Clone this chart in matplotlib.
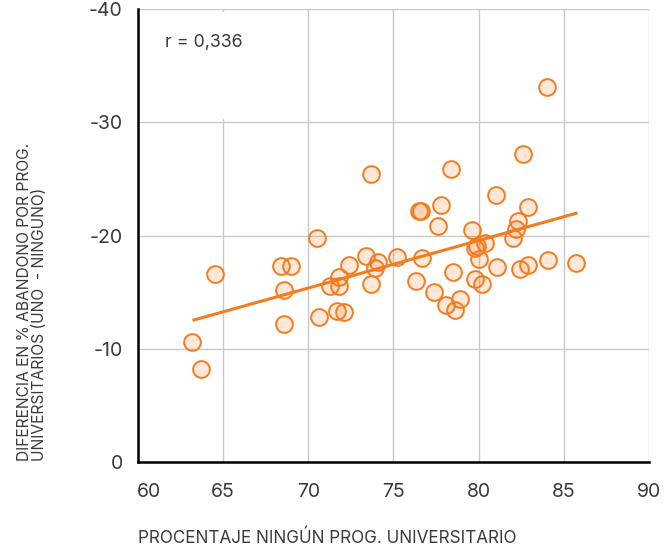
#!/usr/bin/python3

import matplotlib
matplotlib.use('Agg')
import matplotlib.pyplot as plt
from matplotlib.patches import Rectangle
from matplotlib.transforms import ScaledTranslation

## Porcentaje ningun prog. universitario (eje x).
pct_ninguno = [73.7, 78.4, 82.6, 81.0, 77.8, 76.5, 76.6, 82.9, 77.6, 79.6,
               82.3, 82.2, 82.0, 70.5, 80.4, 79.9, 79.8, 80.0, 75.2, 76.7,
               73.4, 74.1, 73.9, 72.4, 68.4, 69.0, 64.5, 81.1, 82.9, 82.4,
               84.1, 85.7, 78.5, 71.8, 71.3, 71.8, 73.7, 68.6, 76.3, 79.8,
               80.2, 77.4, 78.9, 78.1, 78.6, 70.6, 71.7, 72.1, 68.6, 63.2,
               63.7, 84.0]

## Diferencia en % abandono (uno - ninguno).
dif_abandono = [-25.4, -25.9, -27.2, -23.6, -22.7, -22.2, -22.2, -22.5, -20.8, -20.5,
                -21.3, -20.6, -19.8, -19.8, -19.3, -19.1, -18.9, -17.9, -18.1, -18.0,
                -18.2, -17.7, -17.1, -17.4, -17.3, -17.3, -16.6, -17.2, -17.4, -17.0,
                -17.8, -17.6, -16.8, -16.3, -15.5, -15.5, -15.7, -15.2, -16.0, -16.2,
                -15.7, -15.0, -14.4, -13.9, -13.4, -12.8, -13.3, -13.2, -12.2, -10.6,
                -8.2, -33.1]

## Linea de tendencia (extremos).
trend_x = [63.2, 85.8]
trend_y = [-12.5, -22.0]

x_ticks = [60, 65, 70, 75, 80, 85, 90]
y_ticks = [0, -10, -20, -30, -40]

orange = '#f47b20'
text_color = '#3a3a3a'

plt.rcParams['font.family'] = ['Inter', 'DejaVu Sans']

fig = plt.figure(figsize=(6.64, 5.5), dpi=100)
ax = fig.add_axes([0.2078, 0.1605, 0.7696, 0.8225])

ax.set_xlim(60, 90)
ax.set_ylim(0, -40)
ax.set_xticks(x_ticks)
ax.set_yticks(y_ticks)
ax.set_xticklabels([str(v) for v in x_ticks])
ax.set_yticklabels([str(v) for v in y_ticks])
ax.tick_params(length=0, labelsize=14, colors=text_color)
ax.tick_params(axis='x', pad=15)
ax.tick_params(axis='y', pad=11)

## La primera etiqueta del eje x esta corrida a la derecha en el original.
first = ax.get_xticklabels()[0]
first.set_transform(first.get_transform() +
                    ScaledTranslation(11 / 100, 0, fig.dpi_scale_trans))

ax.set_axisbelow(True)
ax.grid(color='#c8c8c8', linewidth=1.0)
for side in ['top', 'right']:
  ax.spines[side].set_visible(False)
for side in ['left', 'bottom']:
  ax.spines[side].set_linewidth(1.8)
  ax.spines[side].set_color('black')

## Caja blanca detras del texto r (tapa la rejilla).
ax.add_patch(Rectangle((60.3, -39.8), 9.4, 9.5, facecolor='white',
                       edgecolor='none', zorder=0.8))

ax.scatter(pct_ninguno, dif_abandono, s=145, facecolor=(0.957, 0.482, 0.125, 0.18),
           edgecolor=orange, linewidth=1.4, zorder=3, clip_on=False)
ax.plot(trend_x, trend_y, color=orange, linewidth=2.2, zorder=4,
        solid_capstyle='butt')

ax.text(61.6, -37.1, 'r = 0,336', fontsize=12.8, color=text_color,
        ha='left', va='center')

fig.text(138 / 664, 1 - 538 / 550, 'PROCENTAJE NINGÚN PROG. UNIVERSITARIO',
         fontsize=12.3, color=text_color, ha='left', va='center')
fig.text(17 / 664, 1 - 461 / 550,
         'DIFERENCIA EN % ABANDONO POR PROG.\nUNIVERSITARIOS (UNO  - NINGUNO)',
         fontsize=11.2, color=text_color, rotation=90, rotation_mode='anchor',
         ha='left', va='top', linespacing=1.0)

fig.savefig('out.png', dpi=100)
